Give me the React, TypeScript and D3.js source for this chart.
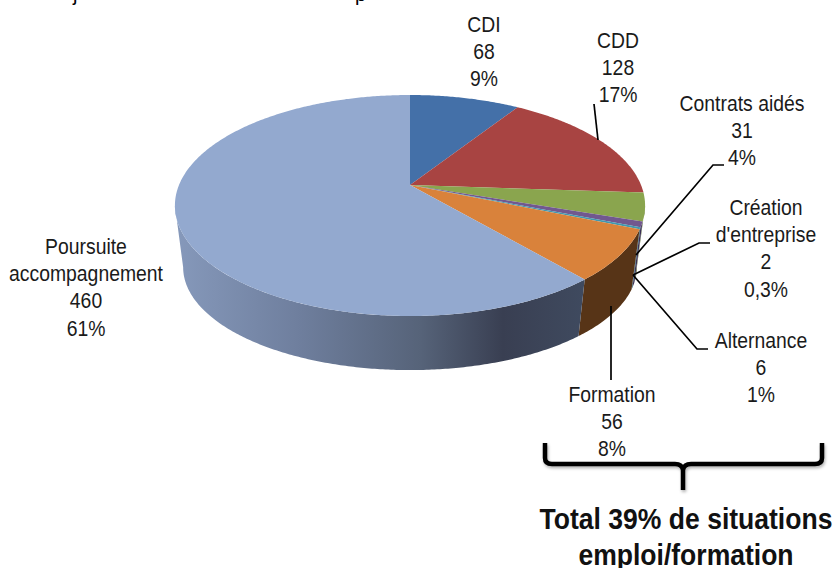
import React from "react";
import * as d3 from "d3";

const categories = ["CDI", "CDD", "Contrats aidés", "Alternance", "Création d'entreprise", "Formation", "Poursuite accompagnement"];
const values = [68, 128, 31, 6, 2, 56, 460];
const topColors = ["#4470a8", "#a84442", "#8aa54e", "#71588f", "#4198af", "#d9823b", "#93a9cf"];
const sideColors = ["#2c4a70", "#6e2c2b", "#5a6c33", "#3c3055", "#2b6373", "#573417", "url(#blueSide)"];

const cx = 410, cy = 185, R = 231, A = 106.7, K = 0.1855;
const bottomSx = 0.965, bottomSy = 0.93, topMidY = 203, bottomMidY = 265;
const frontStart = Math.acos(-K), frontEnd = 2 * Math.PI - frontStart;

function project(theta: number): [number, number] {
  const u = Math.sin(theta), v = -Math.cos(theta), w = 1 - K * v;
  return [cx + (R * u) / w, cy + (A * v) / w];
}
function projectBottom(theta: number): [number, number] {
  const [x, y] = project(theta);
  return [cx + (x - cx) * bottomSx, bottomMidY + (y - topMidY) * bottomSy];
}

const labels = [
  { lines: ["CDI", "68", "9%"], x: 484, y: 32 },
  { lines: ["CDD", "128", "17%"], x: 618, y: 48 },
  { lines: ["Contrats aidés", "31", "4%"], x: 742, y: 111 },
  { lines: ["Création", "d'entreprise", "2", "0,3%"], x: 766, y: 215 },
  { lines: ["Alternance", "6", "1%"], x: 761, y: 348 },
  { lines: ["Formation", "56", "8%"], x: 612, y: 402 },
  { lines: ["Poursuite", "accompagnement", "460", "61%"], x: 86, y: 254 },
];

const leaders: [number, number][][] = [
  [[598, 140], [594, 104]],
  [[636, 255], [713, 165], [724, 165]],
  [[633, 275], [699, 243], [710, 243]],
  [[633, 275], [697, 349], [708, 349]],
  [[611, 306], [611, 380]],
];

export default function App() {
  const arcs = d3.pie<number>().sort(null).startAngle(0).endAngle(2 * Math.PI)(values);
  const line = d3.line();
  const sweep = (a: number, b: number, f = project) => {
    const n = Math.max(2, Math.ceil((b - a) / 0.01));
    return d3.range(n + 1).map((i) => f(a + ((b - a) * i) / n));
  };
  const topPath = (a: number, b: number) => line([[cx, cy], ...sweep(a, b)])! + "Z";
  const sidePath = (a0: number, b0: number) => {
    const a = Math.max(a0, frontStart), b = Math.min(b0, frontEnd);
    if (b <= a) return "";
    return line([...sweep(a, b), ...sweep(a, b, projectBottom).reverse()])! + "Z";
  };

  return (
    <svg width={833} height={568} style={{ position: "absolute", left: 0, top: 0, background: "#fff" }} fontFamily="'Liberation Sans', Arial, sans-serif">
      <defs>
        <linearGradient id="blueSide" gradientUnits="userSpaceOnUse" x1={174} x2={585} y1={0} y2={0}>
          <stop offset="0" stopColor="#8699bb" />
          <stop offset="0.3" stopColor="#6f7f9e" />
          <stop offset="0.6" stopColor="#566379" />
          <stop offset="0.8" stopColor="#393f52" />
          <stop offset="1" stopColor="#3f4a5f" />
        </linearGradient>
        <filter id="soft" x="-10%" y="-10%" width="120%" height="130%">
          <feDropShadow dx="1" dy="2" stdDeviation="1.5" floodColor="#000" floodOpacity="0.3" />
        </filter>
      </defs>
      <text x={73} y={1} fontSize={20}>j</text>
      <text x={355} y={1} fontSize={20}>p</text>
      {arcs.map((d, i) => (
        <path key={"s" + i} d={sidePath(d.startAngle, d.endAngle)} fill={sideColors[i]} />
      ))}
      {arcs.map((d, i) => (
        <path key={"t" + i} d={topPath(d.startAngle, d.endAngle)} fill={topColors[i]} />
      ))}
      {leaders.map((l, i) => (
        <path key={i} d={line(l)!} fill="none" stroke="#000" strokeWidth={1.7} />
      ))}
      {labels.map((l) => (
        <text key={l.lines[0]} transform={`translate(${l.x},0) scale(0.88,1)`} textAnchor="middle" fontSize={22} fill="#1a1a1a">
          {l.lines.map((t, i) => (
            <tspan key={i} x={0} y={l.y + i * 27.2}>{t}</tspan>
          ))}
        </text>
      ))}
      <path
        d="M545,443 V458 Q545,464 552,464 H675 Q682,464 683,470 Q684,464 691,464 H815 Q822,464 822,458 V443 M683,466 V490"
        fill="none" stroke="#000" strokeWidth={4.5} filter="url(#soft)"
      />
      <text transform="translate(686,0) scale(0.915,1)" textAnchor="middle" fontSize={29} fontWeight="bold" fill="#111">
        <tspan x={0} y={529}>Total 39% de situations</tspan>
        <tspan x={0} y={565}>emploi/formation</tspan>
      </text>
    </svg>
  );
}
